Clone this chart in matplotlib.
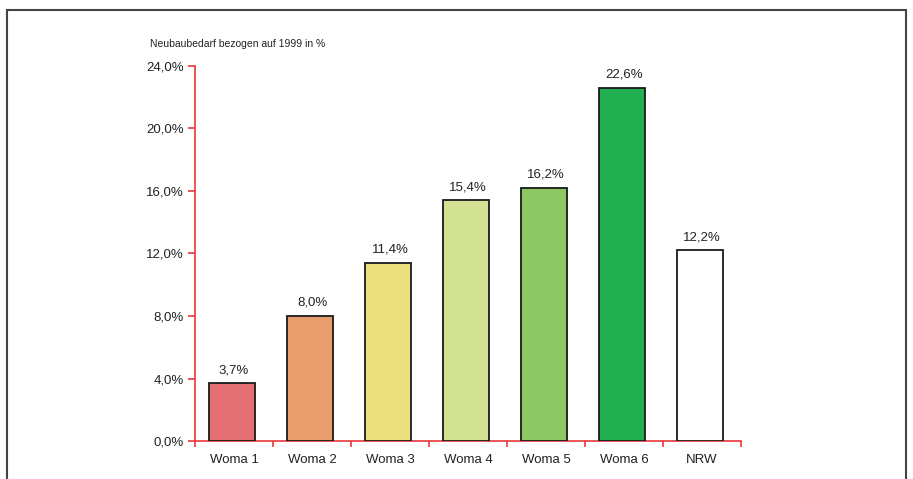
import matplotlib.pyplot as plt
from matplotlib.patches import Rectangle
import numpy as np

# Daten
kategorien = ['Woma 1', 'Woma 2', 'Woma 3', 'Woma 4', 'Woma 5', 'Woma 6', 'NRW']
werte = [3.7, 8.0, 11.4, 15.4, 16.2, 22.6, 12.2]
farben = ['#E57073', '#E89E6C', '#EAE07C', '#D3E193', '#8DC864', '#22B052', '#FFFFFF']
y_ticks = [0, 4, 8, 12, 16, 20, 24]

plt.rcParams['font.family'] = ['Liberation Sans', 'DejaVu Sans']
rot = '#E8383A'

fig = plt.figure(figsize=(9.13, 4.79), dpi=100)
ax = fig.add_axes([0.2136, 0.0793, 0.598, 0.783])

x = np.arange(len(kategorien))
ax.bar(x - 0.03, werte, width=0.59, color=farben, edgecolor='#1a1a1a', linewidth=1.3, zorder=3)

# Werte ueber den Balken
for xi, v in zip(x, werte):
    ax.text(xi, v + 0.45, f'{v:.1f}%'.replace('.', ','), ha='center', va='bottom', fontsize=9.5, color='#222')

ax.set_xlim(-0.5, len(kategorien) - 0.5)
ax.set_ylim(0, 24)
ax.set_yticks(y_ticks)
ax.set_yticklabels([f'{t:.1f}%'.replace('.', ',') for t in y_ticks], fontsize=9.5, color='#222')
ax.set_xticks(x)
ax.set_xticklabels(kategorien, fontsize=9.5, color='#222')
ax.set_xticks(np.arange(-0.5, len(kategorien)), minor=True)

ax.tick_params(axis='x', which='major', length=0, pad=9)
ax.tick_params(axis='x', which='minor', length=4, color=rot, width=1.2)
ax.tick_params(axis='y', length=5, color=rot, width=1.2, pad=3)

for s in ['top', 'right']:
    ax.spines[s].set_visible(False)
for s in ['left', 'bottom']:
    ax.spines[s].set_color(rot)
    ax.spines[s].set_linewidth(1.2)

# Titel oben links
fig.text(150 / 913, 1 - 44 / 479, 'Neubaubedarf bezogen auf 1999 in %', fontsize=7.5, color='#222',
         va='center', ha='left')

# Rahmen
fig.patches.append(Rectangle((7 / 913, -0.05), 899 / 913, 1.05 - 10 / 479, transform=fig.transFigure,
                             fill=False, edgecolor='#444', linewidth=1.5))

plt.savefig('out.png', dpi=100)
